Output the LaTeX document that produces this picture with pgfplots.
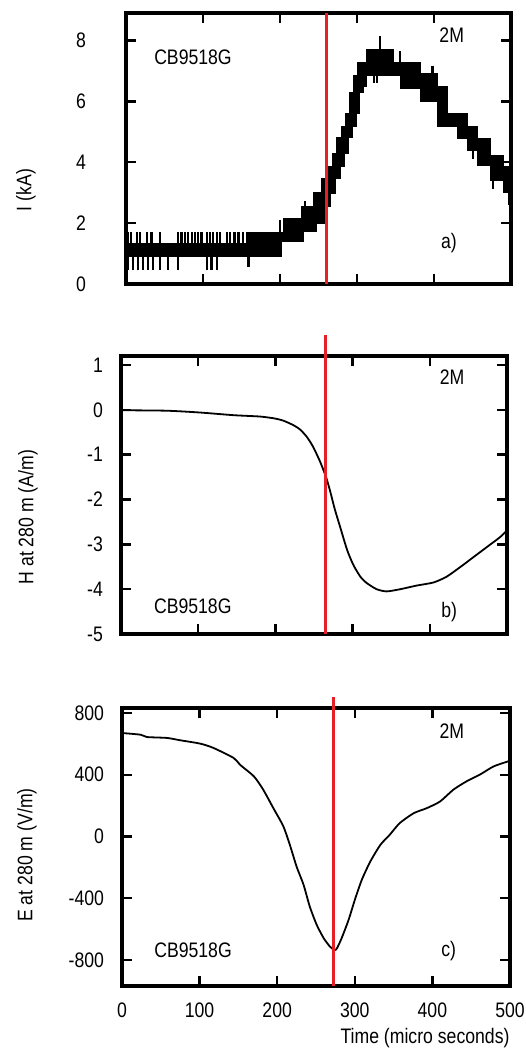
\documentclass[border=0pt]{standalone}
\usepackage{fontspec}
\setmainfont{Liberation Sans}[FakeStretch=0.84]
\usepackage{pgfplots}
\pgfplotsset{compat=1.18}
\usepgfplotslibrary{fillbetween}

\definecolor{marker}{RGB}{230,32,38}
\newcommand{\lbl}{\fontsize{10.5}{12}\selectfont}

\pgfplotsset{
  panel/.style={
    scale only axis, anchor=south west,
    xmin=0, xmax=500, xtick={0,100,...,500},
    tick align=inside, tick pos=both,
    major tick length=5pt,
    separate axis lines,
    axis line style={line width=1.6pt, line cap=rect},
    every outer x axis line/.append style={line width=1.6pt},
    every outer y axis line/.append style={line width=1.6pt},
    every tick/.style={black, line width=1.2pt},
    tick label style={font=\lbl},
    label style={font=\lbl},
    /pgf/number format/assume math mode=true,
    yticklabel style={xshift=-5.5pt},
    clip=false,
  },
  spike/.style={black, line width=1.1pt, unbounded coords=jump},
}

\begin{document}
\begin{tikzpicture}

% ---- a) current
\begin{axis}[panel, at={(63pt,382.5pt)}, width=192.5pt, height=135.5pt,
  ymin=0, ymax=8.9, ytick={0,2,...,8}, xticklabels={},
  yticklabel style={xshift=-11pt},
  ylabel={I (kA)}, ylabel style={at={(axis description cs:-0.26,0.347)}, anchor=center}]
\addplot[name path=U, const plot, black, line width=0.5pt] coordinates {
  (0,1.34) (157,1.70) (205,2.15) (228,2.54) (243,3.00) (254,3.47) (262,3.85)
  (268,4.29) (274,4.80) (280,5.16) (285,5.60) (290,6.30) (295,6.85) (300,7.29)
  (312,7.69) (348,7.29) (382,6.90) (404,6.47) (417,5.60) (443,5.16) (456,4.78)
  (473,4.23) (490,3.85) (497,3.45) (500,3.45) };
\addplot[name path=L, const plot, black, line width=0.5pt] coordinates {
  (0,0.89) (202,1.39) (230,1.71) (247,2.00) (258,2.54) (266,2.97) (272,3.47)
  (278,3.85) (284,4.29) (289,4.80) (294,5.16) (299,5.60) (303,6.30) (308,6.47)
  (312,6.85) (356,6.43) (382,5.98) (404,5.16) (430,4.78) (443,4.39) (456,3.90)
  (473,3.41) (490,3.00) (497,2.62) (500,2.62) };
\addplot[black] fill between[of=U and L];
% spikes above the band
\addplot[spike] coordinates {
  (3,1.34) (3,1.70) (3,nan) (7,1.34) (7,1.70) (7,nan) (14,1.34) (14,1.70) (14,nan)
  (18,1.34) (18,1.70) (18,nan) (27,1.34) (27,1.70) (27,nan) (33,1.34) (33,1.70) (33,nan)
  (44,1.34) (44,1.70) (44,nan) (68,1.34) (68,1.70) (68,nan) (72,1.34) (72,1.70) (72,nan)
  (77,1.34) (77,1.70) (77,nan) (81,1.34) (81,1.70) (81,nan) (86,1.34) (86,1.70) (86,nan)
  (90,1.34) (90,1.70) (90,nan) (94,1.34) (94,1.70) (94,nan) (98,1.34) (98,1.70) (98,nan)
  (105,1.34) (105,1.70) (105,nan) (109,1.34) (109,1.70) (109,nan) (113,1.34) (113,1.70) (113,nan)
  (118,1.34) (118,1.70) (118,nan) (122,1.34) (122,1.70) (122,nan) (131,1.34) (131,1.70) (131,nan)
  (135,1.34) (135,1.70) (135,nan) (141,1.34) (141,1.70) (141,nan) (146,1.34) (146,1.70) (146,nan)
  (152,1.34) (152,1.70) (152,nan) (200,1.70) (200,2.10) (200,nan) (232,2.54) (232,2.74) (232,nan)
  (330,7.69) (330,8.15) (330,nan) (356,7.29) (356,7.65) (356,nan) (398,6.90) (398,7.15) };
% spikes below the band
\addplot[spike] coordinates {
  (3,0.89) (3,0.45) (3,nan) (9.5,0.89) (9.5,0.45) (9.5,nan) (16,0.89) (16,0.45) (16,nan)
  (22.5,0.89) (22.5,0.45) (22.5,nan) (29,0.89) (29,0.45) (29,nan) (35.5,0.89) (35.5,0.45) (35.5,nan)
  (44,0.89) (44,0.45) (44,nan) (55,0.89) (55,0.45) (55,nan) (68,0.89) (68,0.45) (68,nan)
  (105,0.89) (105,0.45) (105,nan) (111,0.89) (111,0.45) (111,nan) (118,0.89) (118,0.45) (118,nan)
  (159,0.89) (159,0.55) (159,nan) (322,6.85) (322,6.60) (322,nan) (326,6.85) (326,6.60) (326,nan)
  (451,4.39) (451,4.09) (451,nan) (477,3.41) (477,3.11) };
\addplot[marker, line width=1.5pt] coordinates {(260,0) (260,8.9)};
\node[font=\lbl] at (axis cs:87,7.45) {CB9518G};
\node[font=\lbl] at (axis cs:423,8.18) {2M};
\node[font=\lbl] at (axis cs:419.5,1.35) {a)};
\end{axis}

% ---- b) magnetic field
\begin{axis}[panel, at={(60.5pt,207.5pt)}, width=193pt, height=139pt,
  ymin=-5, ymax=1.2, ytick={-5,-4,...,1}, xticklabels={},
  ylabel={H at 280 m (A/m)}, ylabel style={at={(axis description cs:-0.241,0.42)}, anchor=center}]
\addplot[black, line width=0.9pt, smooth, tension=0.4] coordinates {
  (0,-0.01) (59,-0.02) (102,-0.06) (146,-0.12) (180,-0.15) (198,-0.19)
  (210,-0.24) (223,-0.34) (232,-0.44) (241,-0.61) (249,-0.83) (258,-1.16)
  (266,-1.52) (271,-1.82) (277,-2.22) (284,-2.62) (293,-3.13) (301,-3.46)
  (310,-3.72) (318,-3.86) (331,-4.00) (344,-4.05) (362,-4.00) (383,-3.92)
  (405,-3.85) (422,-3.72) (440,-3.50) (457,-3.28) (474,-3.06) (491,-2.84)
  (500,-2.69) };
\addplot[marker, line width=1.5pt] coordinates {(265.5,-5) (265.5,1.67)};
\node[font=\lbl] at (axis cs:429,0.73) {2M};
\node[font=\lbl] at (axis cs:93,-4.38) {CB9518G};
\node[font=\lbl] at (axis cs:425,-4.51) {b)};
\end{axis}

% ---- c) electric field
\begin{axis}[panel, at={(61pt,31.5pt)}, width=194pt, height=139pt,
  ymin=-968, ymax=832, ytick={-800,-400,0,400,800},
  xticklabel style={yshift=-5pt},
  xlabel={Time (micro seconds)}, xlabel style={at={(axis description cs:0.781,-0.189)}, anchor=center},
  ylabel={E at 280 m (V/m)}, ylabel style={at={(axis description cs:-0.245,0.471)}, anchor=center}]
\addplot[black, line width=0.9pt, smooth, tension=0.4] coordinates {
  (0,670) (24,659) (32,644) (58,638) (75,623) (101,601) (118,573) (144,508)
  (152,465) (170,389) (182,303) (195,184) (208,65) (217,-65) (225,-195)
  (234,-313) (242,-454) (251,-573) (260,-659) (268,-713) (274,-735) (277,-724)
  (283,-659) (292,-540) (300,-411) (309,-281) (320,-162) (333,-54) (345,11)
  (358,87) (376,151) (393,184) (410,227) (427,303) (444,357) (461,400)
  (479,454) (498,487) (500,490) };
\addplot[marker, line width=1.5pt] coordinates {(273,-968) (273,903)};
\node[font=\lbl] at (axis cs:425,683) {2M};
\node[font=\lbl] at (axis cs:91.5,-735) {CB9518G};
\node[font=\lbl] at (axis cs:421,-741) {c)};
\end{axis}

\pgfresetboundingbox
\path[use as bounding box] (0,0) rectangle (262.5pt,524.5pt);
\end{tikzpicture}
\end{document}
